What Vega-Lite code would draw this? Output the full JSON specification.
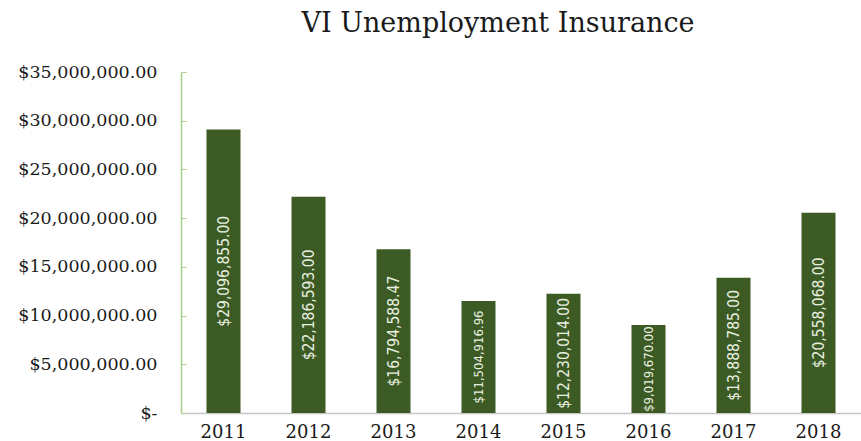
{
  "$schema": "https://vega.github.io/schema/vega-lite/v6.json",
  "width": 680,
  "height": 341,
  "autosize": {"type": "none"},
  "padding": {"left": 181, "top": 72, "right": 0, "bottom": 28},
  "background": "white",
  "title": {
    "text": "VI Unemployment Insurance",
    "font": "DejaVu Serif",
    "fontSize": 27,
    "fontWeight": "normal",
    "color": "#1a1a1a",
    "anchor": "middle",
    "dx": -23,
    "offset": 25
  },
  "data": {
    "values": [
      {"year": "2011", "value": 29096855.00},
      {"year": "2012", "value": 22186593.00},
      {"year": "2013", "value": 16794588.47},
      {"year": "2014", "value": 11504916.96},
      {"year": "2015", "value": 12230014.00},
      {"year": "2016", "value": 9019670.00},
      {"year": "2017", "value": 13888785.00},
      {"year": "2018", "value": 20558068.00}
    ]
  },
  "config": {
    "view": {"stroke": null},
    "axis": {"grid": false}
  },
  "encoding": {
    "x": {
      "field": "year",
      "type": "nominal",
      "scale": {"paddingInner": 0.6, "paddingOuter": 0.3},
      "axis": {
        "title": null,
        "labelAngle": 0,
        "labelFont": "DejaVu Serif",
        "labelFontSize": 18,
        "labelColor": "#1a1a1a",
        "labelPadding": 10,
        "ticks": false,
        "domainColor": "#c8c8c8",
        "domainWidth": 1.5
      }
    }
  },
  "layer": [
    {
      "mark": {"type": "bar", "color": "#3c5a23"},
      "encoding": {
        "y": {
          "field": "value",
          "type": "quantitative",
          "scale": {"domain": [0, 35000000]},
          "axis": {
            "title": null,
            "values": [0, 5000000, 10000000, 15000000, 20000000, 25000000, 30000000, 35000000],
            "labelExpr": "datum.value == 0 ? '$-' : format(datum.value, '$,.2f')",
            "labelFont": "DejaVu Serif",
            "labelFontSize": 17.5,
            "labelColor": "#1a1a1a",
            "labelPadding": 29,
            "tickSize": -5,
            "tickColor": "#a9d08e",
            "domainColor": "#a9d08e",
            "domainWidth": 1.5
          }
        }
      }
    },
    {
      "transform": [{"calculate": "datum.value / 2", "as": "mid"}],
      "mark": {
        "type": "text",
        "angle": 270,
        "align": "center",
        "baseline": "middle",
        "color": "#e8f0e0",
        "font": "Liberation Sans Narrow, DejaVu Sans Condensed, sans-serif"
      },
      "encoding": {
        "y": {"field": "mid", "type": "quantitative"},
        "text": {"field": "value", "type": "quantitative", "format": "$,.2f"},
        "size": {
          "condition": {"test": "datum.value < 11600000", "value": 13},
          "value": 15.5
        }
      }
    }
  ]
}
